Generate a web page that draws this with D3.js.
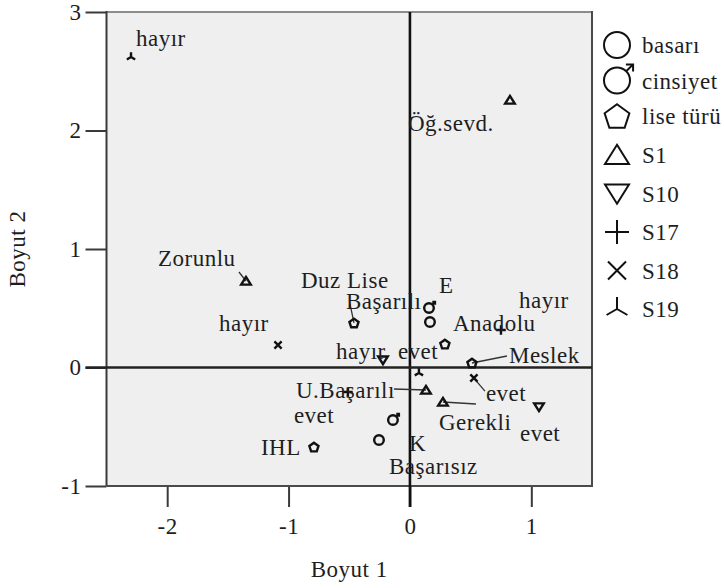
<!DOCTYPE html>
<html>
<head>
<meta charset="utf-8">
<script src="https://cdn.jsdelivr.net/npm/d3@7/dist/d3.min.js"></script>
<style>
  html, body { margin: 0; padding: 0; background: #fff; }
</style>
</head>
<body>
<svg id="chart" width="724" height="588"></svg>
<script>
// Legend entries (variables) and the symbol used for each
const seriesNames = ["basarı", "cinsiyet", "lise türü", "S1", "S10", "S17", "S18", "S19"];
const seriesSymbols = ["circle", "male", "pentagon", "triUp", "triDown", "plus", "cross", "triStar"];

// Category points: variable, category label, dimension 1, dimension 2
const pointSeries = ["S19", "S1", "S1", "S18", "lise türü", "cinsiyet", "basarı", "lise türü", "S17", "S10",
                     "S19", "lise türü", "S1", "S1", "S18", "S10", "S17", "lise türü", "basarı", "cinsiyet"];
const pointLabels = ["hayır", "Öğ.sevd.", "Zorunlu", "hayır", "Duz Lise", "E", "Başarılı", "Anadolu", "hayır", "hayır",
                     "evet", "Meslek", "U.Başarılı", "Gerekli", "evet", "evet", "evet", "IHL", "Başarısız", "K"];
const dim1 = [-2.298, 0.824, -1.351, -1.087, -0.461, 0.157, 0.165, 0.288, 0.750, -0.222,
              0.074, 0.511, 0.132, 0.272, 0.527, 1.063, -0.511, -0.791, -0.255, -0.140];
const dim2 = [2.620, 2.257, 0.730, 0.190, 0.376, 0.502, 0.384, 0.198, 0.316, 0.063,
              -0.046, 0.038, -0.190, -0.291, -0.089, -0.333, -0.207, -0.671, -0.612, -0.443];

// Axis ticks
const xTicks = [-2, -1, 0, 1];
const yTicks = [-1, 0, 1, 2, 3];

// Label placement (pixel offsets from the marker) and leader-line ends
const labelDx = [5, -102, -88, -59, -53, 10, -84, 8, 18, -47, -21, 37, -130, -4, 12, -19, -54, -53, 10, 16];
const labelDy = [-19, 23, -23, -22, -43, -23, -21, -21, -30, -9, -22, -8, 0, 20, 15, 26, 23, 0, 26, 23];
const leaders = { 2: [-7, -9], 4: [-4, -19], 11: [35, -7], 12: [-32, -1], 13: [33, 2], 14: [11, 13] };

const FAMILY = '"Liberation Serif", "Times New Roman", "DejaVu Serif", serif';
const FONT = 23;
const SPACING = 0.5;

const svg = d3.select("#chart");
const M = { left: 106.5, right: 592, top: 12, bottom: 486 };

const x = d3.scaleLinear().domain([-2.5, 1.5]).range([M.left, M.right]);
const y = d3.scaleLinear().domain([-1, 3]).range([M.bottom, M.top]);

function styleText(sel) {
  return sel.attr("font-family", FAMILY).style("font-family", FAMILY)
    .attr("font-size", FONT).attr("letter-spacing", SPACING).attr("fill", "#1e1e1e");
}
const fmt = d => (d < 0 ? "-" : "") + Math.abs(d);

// Plot background
svg.append("rect")
  .attr("x", M.left).attr("y", M.top)
  .attr("width", M.right - M.left).attr("height", M.bottom - M.top)
  .attr("fill", "#efefef");

// Axes (ticks and labels only; the frame is drawn separately)
const yAxis = d3.axisLeft(y).tickValues(yTicks).tickSize(21).tickPadding(4).tickFormat(fmt);
const xAxis = d3.axisBottom(x).tickValues(xTicks).tickSize(21).tickPadding(11).tickFormat(fmt);

const gy = svg.append("g").attr("transform", `translate(${M.left},0)`).call(yAxis);
const gx = svg.append("g").attr("transform", `translate(0,${M.bottom})`).call(xAxis);
[gx, gy].forEach(g => {
  g.attr("font-family", null).attr("font-size", null);
  g.select(".domain").remove();
  g.selectAll(".tick line").attr("stroke", "#3a3a3a").attr("stroke-width", 2);
  styleText(g.selectAll(".tick text"));
});

// Frame
svg.append("line").attr("x1", M.left).attr("x2", M.right).attr("y1", M.top).attr("y2", M.top)
  .attr("stroke", "#8c8c8c").attr("stroke-width", 2.2);
svg.append("line").attr("x1", M.left).attr("x2", M.left).attr("y1", M.top - 1).attr("y2", M.bottom)
  .attr("stroke", "#3a3a3a").attr("stroke-width", 2);
svg.append("line").attr("x1", M.right).attr("x2", M.right).attr("y1", M.top - 1).attr("y2", M.bottom + 1)
  .attr("stroke", "#4a4a4a").attr("stroke-width", 2);
svg.append("line").attr("x1", M.left).attr("x2", M.right).attr("y1", M.bottom).attr("y2", M.bottom)
  .attr("stroke", "#4a4a4a").attr("stroke-width", 2.2);

// Reference lines through the origin
svg.append("line").attr("x1", x(0)).attr("x2", x(0)).attr("y1", M.top).attr("y2", M.bottom + 21)
  .attr("stroke", "#111").attr("stroke-width", 2.6);
svg.append("line").attr("x1", M.left - 21).attr("x2", M.right).attr("y1", y(0)).attr("y2", y(0))
  .attr("stroke", "#222").attr("stroke-width", 2.4);

// Axis titles
styleText(svg.append("text").attr("x", (M.left + M.right) / 2).attr("y", 577)
  .attr("text-anchor", "middle")).text("Boyut 1");
styleText(svg.append("text").attr("transform", `translate(25,${(M.top + M.bottom) / 2}) rotate(-90)`)
  .attr("text-anchor", "middle")).text("Boyut 2");

// Marker shapes
function symbolPath(type, s) {
  const p = d3.path();
  if (type === "circle" || type === "male") {
    p.moveTo(s, 0); p.arc(0, 0, s, 0, 2 * Math.PI);
    if (type === "male") {
      const a = -Math.PI / 4, e = s * 1.75;
      p.moveTo(s * Math.cos(a), s * Math.sin(a));
      p.lineTo(e * Math.cos(a), e * Math.sin(a));
      const tx = e * Math.cos(a), ty = e * Math.sin(a), h = s * 0.55;
      p.moveTo(tx - h, ty); p.lineTo(tx, ty); p.lineTo(tx, ty + h);
    }
  } else if (type === "pentagon") {
    for (let i = 0; i < 5; i++) {
      const ang = -Math.PI / 2 + i * 2 * Math.PI / 5;
      const px = s * Math.cos(ang), py = s * Math.sin(ang) + s * 0.1;
      i === 0 ? p.moveTo(px, py) : p.lineTo(px, py);
    }
    p.closePath();
  } else if (type === "triUp") {
    p.moveTo(0, -s * 0.85); p.lineTo(s, s * 0.75); p.lineTo(-s, s * 0.75); p.closePath();
  } else if (type === "triDown") {
    p.moveTo(0, s * 0.85); p.lineTo(s, -s * 0.75); p.lineTo(-s, -s * 0.75); p.closePath();
  } else if (type === "plus") {
    p.moveTo(-s, 0); p.lineTo(s, 0); p.moveTo(0, -s); p.lineTo(0, s);
  } else if (type === "cross") {
    const c = s * 0.75;
    p.moveTo(-c, -c); p.lineTo(c, c); p.moveTo(-c, c); p.lineTo(c, -c);
  } else if (type === "triStar") {
    p.moveTo(0, 0); p.lineTo(0, -s);
    p.moveTo(0, 0); p.lineTo(-s * 0.87, s * 0.5);
    p.moveTo(0, 0); p.lineTo(s * 0.87, s * 0.5);
  }
  return p.toString();
}
const symbolOf = name => seriesSymbols[seriesNames.indexOf(name)];

// Points
const points = pointLabels.map((lab, i) => ({
  series: pointSeries[i], label: lab, d1: dim1[i], d2: dim2[i], i
}));

// Leader lines
svg.append("g").selectAll("line")
  .data(points.filter(d => leaders[d.i]))
  .join("line")
  .attr("x1", d => x(d.d1)).attr("y1", d => y(d.d2))
  .attr("x2", d => x(d.d1) + leaders[d.i][0]).attr("y2", d => y(d.d2) + leaders[d.i][1])
  .attr("stroke", "#333").attr("stroke-width", 1.3);

// Markers
svg.append("g").selectAll("path")
  .data(points)
  .join("path")
  .attr("transform", d => `translate(${x(d.d1)},${y(d.d2)})`)
  .attr("d", d => symbolPath(symbolOf(d.series), 4.8))
  .attr("fill", "none").attr("stroke", "#111").attr("stroke-width", 2.4);

// Category labels
styleText(svg.append("g").selectAll("text")
  .data(points)
  .join("text")
  .attr("x", d => x(d.d1) + labelDx[d.i])
  .attr("y", d => y(d.d2) + labelDy[d.i])
  .attr("dy", "0.35em"))
  .text(d => d.label);

// Legend
const legendY = [45, 80.5, 116, 155, 193.5, 232, 270.5, 309];
const lg = svg.append("g");
seriesNames.forEach((name, i) => {
  lg.append("path")
    .attr("transform", `translate(617,${legendY[i]})`)
    .attr("d", symbolPath(seriesSymbols[i], i < 3 ? 13 : 12))
    .attr("fill", "none").attr("stroke", "#111").attr("stroke-width", 2);
  styleText(lg.append("text").attr("x", 642).attr("y", legendY[i]).attr("dy", "0.35em")).text(name);
});
</script>
</body>
</html>
